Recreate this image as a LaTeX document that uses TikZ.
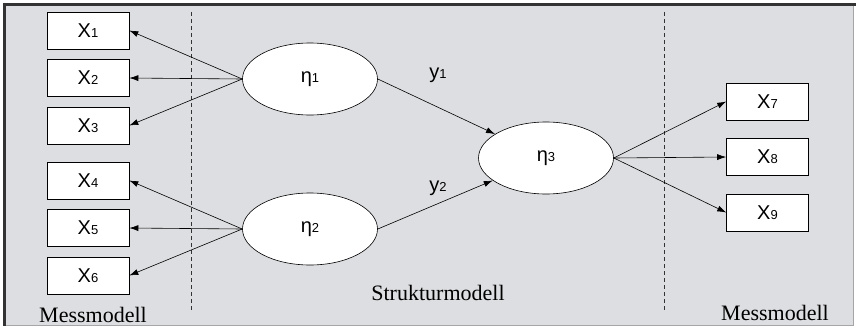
\documentclass[tikz,border=0pt]{standalone}
\usepackage{fontspec}
\setmainfont{Liberation Serif}
\setsansfont{Liberation Sans}
\usetikzlibrary{shapes.geometric}
\usetikzlibrary{arrows.meta}
\definecolor{grund}{RGB}{221,222,225}
\newcommand{\ind}[2]{#1{\fontsize{13}{15}\selectfont #2}}

\begin{document}
\begin{tikzpicture}[x=1pt,y=-1pt,
  box/.style={draw,fill=white,line width=0.6pt,minimum width=82pt,minimum height=37pt,inner sep=0pt,font=\sffamily\fontsize{20}{24}\selectfont},
  lat/.style={ellipse,draw,fill=white,line width=0.6pt,minimum width=135pt,minimum height=72pt,inner sep=0pt,font=\sffamily\fontsize{20}{24}\selectfont},
  pfeil/.style={line width=0.6pt,-{Latex[length=9pt,width=6pt]}},
  trenn/.style={gray!40!black,line width=0.6pt,dash pattern=on 4pt off 3pt},
  titel/.style={font=\fontsize{22}{26}\selectfont}]
  \useasboundingbox (0,0) rectangle (856,327);
  \fill[white] (0,0) rectangle (856,327);
  \fill[grund] (4,4) rectangle (853,325);
  \draw[gray!70,line width=0.8pt] (853,4) -- (853,325) -- (4,325);
  \draw[black!80,line width=3pt] (4.5,326) -- (4.5,4.5) -- (856,4.5);
  % Trennlinien
  \draw[trenn] (191,12) -- (191,312);
  \draw[trenn] (664,12) -- (664,312);
  % Messmodell links
  \node[box] (x1) at (88,30.5) {\ind{X}{1}};
  \node[box] (x2) at (88,78) {\ind{X}{2}};
  \node[box] (x3) at (88,125.5) {\ind{X}{3}};
  \node[box] (x4) at (88,180.5) {\ind{X}{4}};
  \node[box] (x5) at (88,228) {\ind{X}{5}};
  \node[box] (x6) at (88,275.5) {\ind{X}{6}};
  % latente Variablen
  \node[lat] (eta1) at (310,79) {\ind{η}{1}};
  \node[lat] (eta2) at (310,229) {\ind{η}{2}};
  \node[lat] (eta3) at (546,158) {\ind{η}{3}};
  % Messmodell rechts
  \node[box] (x7) at (767.5,101.5) {\ind{X}{7}};
  \node[box] (x8) at (767.5,157) {\ind{X}{8}};
  \node[box] (x9) at (767.5,212.5) {\ind{X}{9}};
  \draw[pfeil] (eta1.west) -- (x1.east);
  \draw[pfeil] (eta1.west) -- (x2.east);
  \draw[pfeil] (eta1.west) -- (x3.east);
  \draw[pfeil] (eta2.west) -- (x4.east);
  \draw[pfeil] (eta2.west) -- (x5.east);
  \draw[pfeil] (eta2.west) -- (x6.east);
  \draw[pfeil] (eta1.east) -- (eta3);
  \draw[pfeil] (eta2.east) -- (eta3);
  \draw[pfeil] (eta3.east) -- (x7.west);
  \draw[pfeil] (eta3.east) -- (x8.west);
  \draw[pfeil] (eta3.east) -- (x9.west);
  \node[font=\sffamily\fontsize{20}{24}\selectfont] (g1) at (438,75) {\ind{y}{1}};
  \node[font=\sffamily\fontsize{20}{24}\selectfont] (g2) at (438,188) {\ind{y}{2}};
  \node[titel] (mm1) at (93,315) {Messmodell};
  \node[titel] (sm) at (438,293) {Strukturmodell};
  \node[titel] (mm2) at (775,313) {Messmodell};
\end{tikzpicture}
\end{document}
